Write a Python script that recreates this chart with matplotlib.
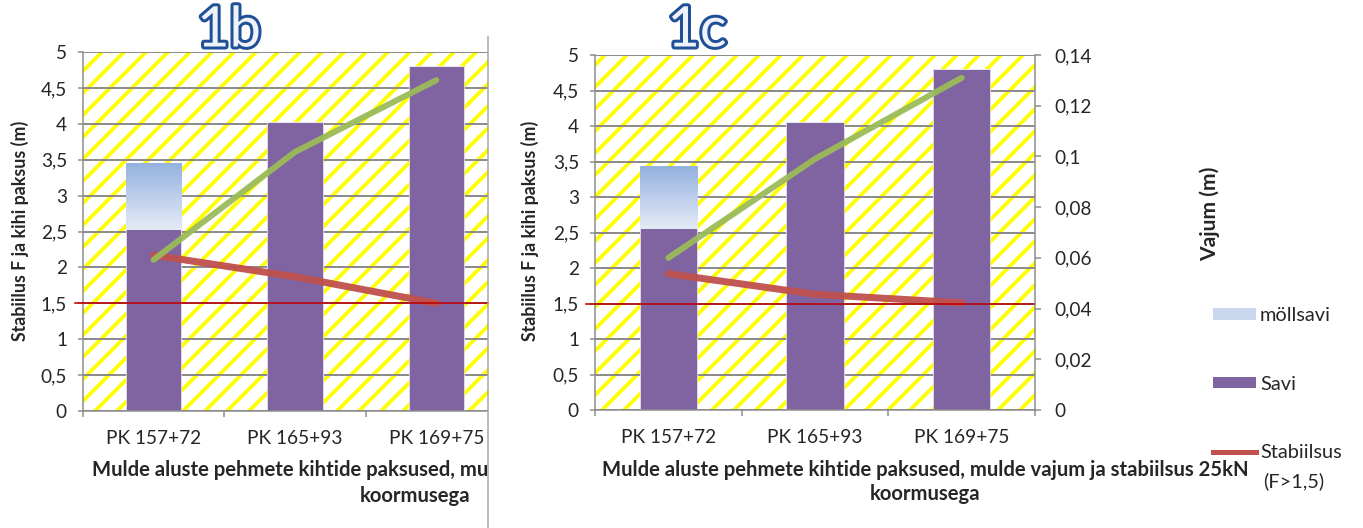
import matplotlib
matplotlib.use("Agg")
import matplotlib.pyplot as plt
import matplotlib.patheffects as pe
import numpy as np
from matplotlib.patches import Rectangle, Patch
from matplotlib.lines import Line2D
from matplotlib.colors import LinearSegmentedColormap
from matplotlib.transforms import Bbox, TransformedBbox
from matplotlib.ticker import FuncFormatter

# ---- data ----
categories = ["PK 157+72", "PK 165+93", "PK 169+75"]

savi_1b = [2.53, 4.03, 4.80]
mollsavi_1b = [0.92, 0.0, 0.0]
stabiilsus_1b = [2.17, 1.87, 1.50]
vajum_1b = [0.059, 0.101, 0.129]

savi_1c = [2.56, 4.05, 4.80]
mollsavi_1c = [0.87, 0.0, 0.0]
stabiilsus_1c = [1.92, 1.63, 1.51]
vajum_1c = [0.060, 0.099, 0.131]

F_MIN = 1.5
xlabel_lines = ["Mulde aluste pehmete kihtide paksused, mulde vajum ja stabiilsus 25kN",
                "koormusega"]
xlabel_cut_1b = "Mulde aluste pehmete kihtide paksused, mu"   # rest is off the page
ylabel_left = "Stabiilus F ja kihi paksus (m)"
ylabel_right = "Vajum (m)"
legend_labels = ["möllsavi", "Savi", "Stabiilsus"]
legend_extra = "(F>1,5)"

# ---- figure setup (work in pixels) ----
W, H, DPI = 1363, 528, 132


def P(px):
    return px * 72.0 / DPI


def fx(px):
    return px / W


def fy(py):
    return 1 - py / H


plt.rcParams['font.family'] = ['Lato', 'DejaVu Sans']
plt.rcParams['hatch.linewidth'] = P(3.8)

PURPLE = '#8064A2'
RED = '#C0504D'
GREEN = '#9BBB59'
GRID = '#8C8C8C'
TXT = '#262626'
TICK_PX = 19
comma = FuncFormatter(lambda v, _: f"{v:g}".replace('.', ','))
grad_cmap = LinearSegmentedColormap.from_list('moll', ['#E4EBF6', '#93B1DF'])

fig = plt.figure(figsize=(W / DPI, H / DPI), dpi=DPI)


def panel(left, right, top, bottom, xmax, savi, moll, stab, vajum, show_right):
    ax = fig.add_axes([fx(left), fy(bottom), fx(right - left), (bottom - top) / H])
    x = np.arange(len(categories))

    ax.add_patch(Rectangle((0, 0), 1, 1, transform=ax.transAxes, facecolor='white',
                           edgecolor='#FFFF00', lw=0, hatch='//', zorder=0))
    ax.set_yticks(np.arange(0, 5.01, 0.5))
    ax.yaxis.set_major_formatter(comma)
    ax.grid(axis='y', color=GRID, lw=P(2), zorder=0.5)
    ax.set_axisbelow(True)

    ax.bar(x, savi, 0.39, color=PURPLE, edgecolor='#E6E0EF', lw=P(0.8), zorder=2)
    tops = ax.bar(x, moll, 0.39, bottom=savi, facecolor='none',
                  edgecolor='#E6ECF7', lw=P(0.8), zorder=2)
    grad = np.linspace(0, 1, 256).reshape(-1, 1)
    for b in tops:
        if b.get_height() > 0:
            im = ax.imshow(grad, extent=(b.get_x(), b.get_x() + b.get_width(),
                                         b.get_y(), b.get_y() + b.get_height()),
                           origin='lower', cmap=grad_cmap, aspect='auto', zorder=2)
            im.set_clip_path(b)

    ax.plot(x, stab, color=RED, lw=P(7), alpha=0.95, solid_capstyle='round', zorder=4)
    ax.axhline(F_MIN, xmin=-0.02, xmax=1, color='#C00000', lw=P(1.6), clip_on=False, zorder=5)

    ax.set_xlim(-0.5, xmax)
    ax.set_ylim(0, 5)
    ax.set_xticks(x)
    ax.set_xticklabels(categories)
    ax.set_xticks(np.arange(-0.5, len(categories)), minor=True)
    ax.tick_params(axis='x', which='major', length=0, pad=P(19), labelsize=P(TICK_PX), labelcolor=TXT)
    ax.tick_params(axis='x', which='minor', length=P(6), width=P(1.5), color=GRID)
    ax.tick_params(axis='y', length=P(5), width=P(1.5), color=GRID, pad=P(11),
                   labelsize=P(TICK_PX), labelcolor=TXT)
    for s in ['top', 'right']:
        ax.spines[s].set_visible(False)
    for s in ['left', 'bottom']:
        ax.spines[s].set_color(GRID)
        ax.spines[s].set_linewidth(P(1.5))

    axv = ax.twinx()
    axv.plot(x, vajum, color=GREEN, lw=P(6), alpha=0.95, solid_capstyle='round')
    axv.set_ylim(0, 0.14)
    for s in axv.spines.values():
        s.set_visible(False)
    if show_right:
        axv.spines['right'].set_visible(True)
        axv.spines['right'].set_color(GRID)
        axv.spines['right'].set_linewidth(P(1.5))
        axv.set_yticks(np.arange(0, 0.141, 0.02))
        axv.yaxis.set_major_formatter(comma)
        axv.tick_params(axis='y', length=P(6), width=P(1.5), color=GRID, pad=P(13),
                        labelsize=P(TICK_PX), labelcolor=TXT)
    else:
        axv.set_yticks([])
    axv.set_xlim(-0.5, xmax)
    return ax


# 1b is cut off by the page edge at x = 488 px
panel(83, 488, 52, 411, -0.5 + (488 - 83) / 141.3, savi_1b, mollsavi_1b,
      stabiilsus_1b, vajum_1b, False)
panel(595, 1035, 55, 410, 2.5, savi_1c, mollsavi_1c, stabiilsus_1c, vajum_1c, True)

# separator between the two screenshots
fig.add_artist(Line2D([fx(487.5), fx(487.5)], [fy(37), 0], color='#A6A6A6', lw=P(1.5)))

# panel titles
for label, cx in [("1b", 229), ("1c", 697)]:
    fig.text(fx(cx), fy(31), label, ha='center', va='center', fontsize=P(56),
             color='#EEF2F9',
             path_effects=[pe.withStroke(linewidth=P(6), foreground='#1F4F96')])

# axis titles
for cx in (20, 530):
    fig.text(fx(cx), fy(231), ylabel_left, rotation=90, ha='center', va='center',
             fontsize=P(17.8), weight='bold', color=TXT)
fig.text(fx(1210), fy(214), ylabel_right, rotation=90, ha='center', va='center',
         fontsize=P(21), weight='bold', color=TXT)

clip = TransformedBbox(Bbox.from_extents(0, 0, fx(487), 1), fig.transFigure)
t = fig.text(fx(92), fy(470), xlabel_cut_1b, ha='left', va='center',
             fontsize=P(20.3), weight='bold', color=TXT)
t.set_clip_box(clip)
t.set_clip_on(True)
fig.text(fx(415), fy(496), xlabel_lines[1], ha='center', va='center',
         fontsize=P(20.3), weight='bold', color=TXT)
fig.text(fx(925), fy(470), xlabel_lines[0], ha='center', va='center',
         fontsize=P(20.3), weight='bold', color=TXT)
fig.text(fx(925), fy(494), xlabel_lines[1], ha='center', va='center',
         fontsize=P(20.3), weight='bold', color=TXT)

handles = [Patch(facecolor='#C9D7EF', edgecolor='none'),
           Patch(facecolor=PURPLE, edgecolor='none'),
           Line2D([], [], color=RED, lw=P(5))]
fig.legend(handles, legend_labels, loc='upper left',
           bbox_to_anchor=(fx(1213), fy(307)), frameon=False,
           fontsize=P(20), handlelength=2.15, handleheight=0.5,
           handletextpad=0.2, labelspacing=2.575, borderpad=0, borderaxespad=0,
           labelcolor=TXT)
fig.text(fx(1263), fy(481), legend_extra, ha='left', va='center',
         fontsize=P(20), color=TXT)

fig.savefig("out.png", dpi=DPI)
